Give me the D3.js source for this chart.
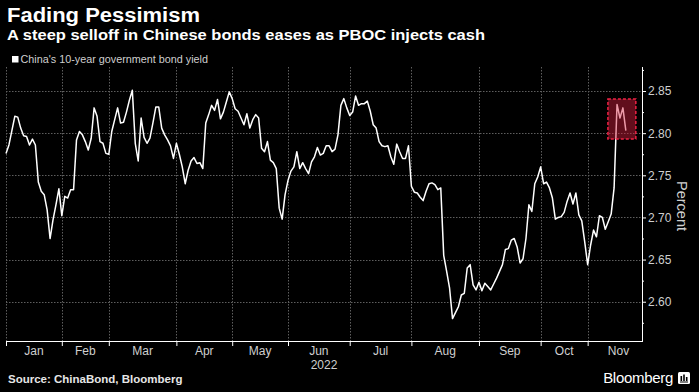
<!DOCTYPE html>
<html><head><meta charset="utf-8">
<script src="https://cdn.jsdelivr.net/npm/d3@7"></script>
<style>
html,body{margin:0;padding:0;background:#000;}
svg{display:block;}
</style></head><body>
<svg id="chart" width="699" height="392"></svg>
<script>
// ---- data (China 10-year government bond yield, trading days of 2022) ----
const months = ["Jan","Feb","Mar","Apr","May","Jun","Jul","Aug","Sep","Oct","Nov"];
const yieldJan = [2.776,2.786,2.803,2.820,2.819,2.806,2.797,2.796,2.786,2.793,2.786,2.742,2.731,2.727,2.709,2.675,2.697,2.715,2.734];
const yieldFeb = [2.702,2.725,2.723,2.733,2.733,2.792,2.802,2.798,2.790,2.780,2.794,2.830,2.820,2.790,2.788,2.776];
const yieldMar = [2.775,2.802,2.816,2.830,2.812,2.813,2.825,2.839,2.851,2.788,2.767,2.818,2.795,2.788,2.794,2.812,2.831,2.831,2.806,2.798,2.792,2.785,2.770];
const yieldApr = [2.788,2.775,2.760,2.740,2.756,2.767,2.771,2.764,2.765,2.758,2.812,2.822,2.833,2.827,2.840,2.817,2.825,2.837,2.849];
const yieldMay = [2.841,2.829,2.826,2.818,2.810,2.823,2.806,2.816,2.822,2.818,2.782,2.778,2.790,2.768,2.765,2.758,2.711,2.698,2.727];
const yieldJun = [2.744,2.755,2.760,2.778,2.758,2.765,2.758,2.752,2.766,2.772,2.783,2.774,2.776,2.785,2.785,2.778,2.781,2.798,2.833,2.841,2.830];
const yieldJul = [2.821,2.825,2.844,2.833,2.835,2.835,2.838,2.826,2.810,2.806,2.790,2.785,2.784,2.785,2.772,2.763,2.787,2.778,2.770,2.770,2.785];
const yieldAug = [2.737,2.730,2.729,2.724,2.720,2.731,2.740,2.741,2.739,2.733,2.735,2.655,2.636,2.616,2.580,2.587,2.594,2.608,2.610,2.640,2.644,2.620,2.614];
const yieldSep = [2.623,2.613,2.622,2.618,2.614,2.621,2.628,2.636,2.644,2.662,2.663,2.673,2.675,2.665,2.646,2.651,2.675,2.715,2.707,2.740,2.748];
const yieldOct = [2.760,2.740,2.742,2.735,2.723,2.698,2.700,2.701,2.706,2.719,2.729,2.716,2.729,2.703,2.696,2.671];
const yieldNov = [2.644,2.667,2.685,2.677,2.702,2.700,2.686,2.695,2.704,2.735,2.834,2.818,2.830,2.803];
const yieldsByMonth = [yieldJan,yieldFeb,yieldMar,yieldApr,yieldMay,yieldJun,yieldJul,yieldAug,yieldSep,yieldOct,yieldNov];
const lastMonthFullLength = 21;           // trading days in a full November (for label centring)
const yTicks = [2.60,2.65,2.70,2.75,2.80,2.85];
const yMinorTicks = [2.575,2.625,2.675,2.725,2.775,2.825,2.875];
const yearLabel = "2022";
const highlight = {from: 204.9, to: 214.4, low: 2.793, high: 2.8405}; // in (trading-day index, yield)

const titleText = "Fading Pessimism";
const subtitleText = "A steep selloff in Chinese bonds eases as PBOC injects cash";
const legendText = "China's 10-year government bond yield";
const sourceText = "Source: ChinaBond, Bloomberg";
const axisTitle = "Percent";

// ---- layout ----
const W = 699, H = 392;
const plot = {left: 6, right: 642, top: 67, bottom: 341};
const FONT = "'Liberation Sans', Arial, sans-serif";

const svg = d3.select("#chart");
svg.append("rect").attr("width", W).attr("height", H).attr("fill", "#000");

const values = yieldsByMonth.flat();
const monthStarts = [];
{ let c = 0; yieldsByMonth.forEach(m => { monthStarts.push(c); c += m.length; }); }

const x = d3.scaleLinear().domain([0, 216.5]).range([plot.left, plot.right]);
const y = d3.scaleLinear().domain([2.5534, 2.8785]).range([plot.bottom, plot.top]);

// grid
const grid = svg.append("g");
grid.selectAll("line.h").data(yTicks).join("line")
  .attr("x1", plot.left).attr("x2", plot.right)
  .attr("y1", d => Math.round(y(d)) + 0.5).attr("y2", d => Math.round(y(d)) + 0.5)
  .attr("stroke", "#5e5e5e").attr("stroke-width", 1).attr("stroke-dasharray", "1.5,1.5");
grid.selectAll("line.v").data(monthStarts).join("line")
  .attr("x1", d => Math.round(x(d)) + 0.5).attr("x2", d => Math.round(x(d)) + 0.5)
  .attr("y1", plot.top).attr("y2", plot.bottom)
  .attr("stroke", "#5e5e5e").attr("stroke-width", 1).attr("stroke-dasharray", "1.5,1.5");

// line
const line = d3.line().x((d, i) => x(i)).y(d => y(d));
svg.append("path").datum(values)
  .attr("d", line).attr("fill", "none")
  .attr("stroke", "#ffffff").attr("stroke-width", 1.5).attr("stroke-linejoin", "round");

// highlight box
svg.append("rect")
  .attr("x", x(highlight.from)).attr("y", y(highlight.high))
  .attr("width", x(highlight.to) - x(highlight.from))
  .attr("height", y(highlight.low) - y(highlight.high))
  .attr("fill", "#d81e3e").attr("fill-opacity", 0.45)
  .attr("stroke", "#ee2244").attr("stroke-width", 1.5).attr("stroke-dasharray", "3,2");

// right axis
const yAxis = d3.axisRight(y).tickValues(yTicks).tickFormat(d3.format(".2f")).tickSize(4).tickPadding(2);
const gy = svg.append("g").attr("transform", `translate(${plot.right},0)`).call(yAxis);
gy.select(".domain").remove();
gy.selectAll(".tick line").attr("stroke", "#fff");
gy.selectAll(".tick text").attr("fill", "#cfcfcf").attr("font-size", 12).attr("font-family", FONT);
const yMinor = d3.axisRight(y).tickValues(yMinorTicks).tickFormat("").tickSize(2);
const gym = svg.append("g").attr("transform", `translate(${plot.right},0)`).call(yMinor);
gym.select(".domain").remove();
gym.selectAll(".tick line").attr("stroke", "#fff");
svg.append("line").attr("x1", plot.right + 0.5).attr("x2", plot.right + 0.5)
  .attr("y1", plot.top).attr("y2", plot.bottom + 1).attr("stroke", "#fff").attr("stroke-width", 1);

svg.append("text").text(axisTitle)
  .attr("transform", `translate(677,206) rotate(90)`)
  .attr("text-anchor", "middle").attr("fill", "#cfcfcf")
  .attr("font-size", 14.5).attr("font-family", FONT);

// bottom axis
const xAxis = d3.axisBottom(x).tickValues(monthStarts).tickFormat("").tickSize(5);
const gx = svg.append("g").attr("transform", `translate(0,${plot.bottom})`).call(xAxis);
gx.select(".domain").remove();
gx.selectAll(".tick line").attr("stroke", "#fff");
svg.append("line").attr("x1", plot.left).attr("x2", plot.right + 1)
  .attr("y1", plot.bottom + 0.5).attr("y2", plot.bottom + 0.5).attr("stroke", "#fff").attr("stroke-width", 1);

const monthEnds = monthStarts.slice(1).concat([monthStarts[monthStarts.length - 1] + lastMonthFullLength]);
svg.append("g").selectAll("text").data(months).join("text")
  .text(d => d)
  .attr("x", (d, i) => x((monthStarts[i] + monthEnds[i]) / 2))
  .attr("y", 354.5).attr("text-anchor", "middle")
  .attr("fill", "#cfcfcf").attr("font-size", 12).attr("font-family", FONT);
svg.append("text").text(yearLabel)
  .attr("x", (plot.left + plot.right) / 2).attr("y", 368.5).attr("text-anchor", "middle")
  .attr("fill", "#cfcfcf").attr("font-size", 12).attr("font-family", FONT);

// titles
svg.append("text").text(titleText).attr("x", 7).attr("y", 22)
  .attr("textLength", 193).attr("lengthAdjust", "spacingAndGlyphs")
  .attr("fill", "#fff").attr("font-size", 20).attr("font-weight", "bold").attr("font-family", FONT);
svg.append("text").text(subtitleText).attr("x", 7).attr("y", 39.5)
  .attr("textLength", 478).attr("lengthAdjust", "spacingAndGlyphs")
  .attr("fill", "#fff").attr("font-size", 15.5).attr("font-weight", "bold").attr("font-family", FONT);

// legend
svg.append("rect").attr("x", 12).attr("y", 56).attr("width", 6.5).attr("height", 6.5).attr("fill", "#fff");
svg.append("text").text(legendText).attr("x", 20.5).attr("y", 62.5)
  .attr("fill", "#cfcfcf").attr("font-size", 10.8).attr("font-family", FONT);

// footer
svg.append("text").text(sourceText).attr("x", 8).attr("y", 383)
  .attr("fill", "#e6e6e6").attr("font-size", 11.5).attr("font-weight", "bold").attr("font-family", FONT);
svg.append("text").text("Bloomberg").attr("x", 673).attr("y", 383).attr("text-anchor", "end")
  .attr("fill", "#fff").attr("font-size", 15).attr("font-family", FONT).attr("letter-spacing", -0.3);
const icon = svg.append("g").attr("transform", "translate(678,372)");
icon.append("rect").attr("width", 12).attr("height", 12).attr("rx", 1.5).attr("fill", "#fff");
icon.append("rect").attr("x", 2.5).attr("y", 4).attr("width", 1.6).attr("height", 5).attr("fill", "#000");
icon.append("rect").attr("x", 5.2).attr("y", 2.5).attr("width", 1.6).attr("height", 6.5).attr("fill", "#000");
icon.append("rect").attr("x", 7.9).attr("y", 5).attr("width", 1.6).attr("height", 4).attr("fill", "#000");
icon.append("rect").attr("x", 2).attr("y", 9.5).attr("width", 8).attr("height", 1).attr("fill", "#000");
</script>
</body></html>
